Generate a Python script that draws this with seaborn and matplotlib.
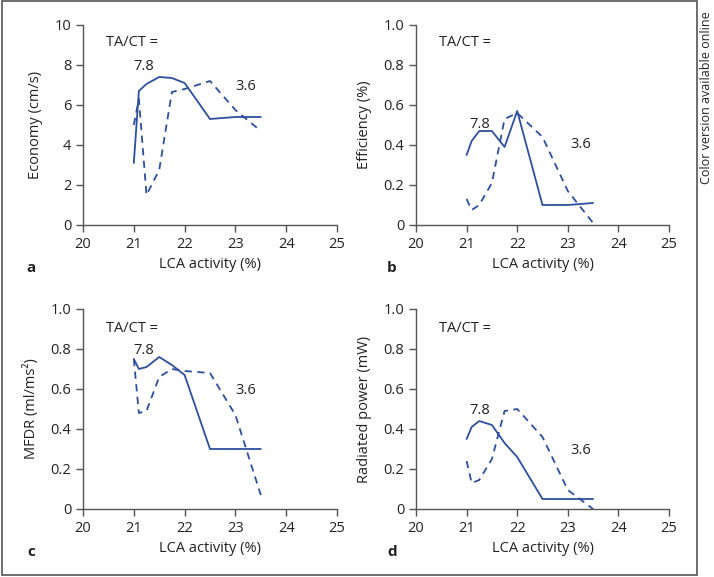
import pandas as pd
import seaborn as sns
import matplotlib.pyplot as plt
from matplotlib.patches import Rectangle

sns.set_style("ticks")
plt.rcParams['font.family'] = ['Open Sans', 'DejaVu Sans']

# LCA activity (%) values shared by all curves
lca = [21.0, 21.1, 21.25, 21.5, 21.75, 22.0, 22.5, 23.0, 23.5]

# TA/CT = 7.8 (solid) and 3.6 (dashed)
economy_78 = [3.1, 6.7, 7.05, 7.4, 7.35, 7.1, 5.3, 5.4, 5.4]
economy_36 = [5.0, 6.3, 1.5, 2.75, 6.65, 6.8, 7.2, 5.75, 4.7]

efficiency_78 = [0.35, 0.42, 0.47, 0.47, 0.39, 0.57, 0.10, 0.10, 0.11]
efficiency_36 = [0.13, 0.075, 0.10, 0.21, 0.53, 0.56, 0.44, 0.17, 0.01]

mfdr_78 = [0.75, 0.70, 0.71, 0.76, 0.72, 0.67, 0.30, 0.30, 0.30]
mfdr_36 = [0.75, 0.48, 0.49, 0.66, 0.70, 0.69, 0.68, 0.47, 0.07]

power_78 = [0.35, 0.41, 0.44, 0.42, 0.33, 0.26, 0.05, 0.05, 0.05]
power_36 = [0.24, 0.13, 0.145, 0.25, 0.49, 0.50, 0.36, 0.095, 0.0]

ylabels = ['Economy (cm/s)', 'Efficiency (%)', 'MFDR (ml/ms²)', 'Radiated power (mW)']
panel_letters = ['a', 'b', 'c', 'd']

color = '#2d4f9e'
grey = '#555555'

W, H = 714, 577
fig = plt.figure(figsize=(W / 100, H / 100), dpi=100)

# axes boxes in pixels: left, top, right, bottom
boxes = [(83, 25, 337, 225), (416, 25, 669, 225), (83, 309, 337, 509), (416, 309, 669, 509)]
series = [(economy_78, economy_36), (efficiency_78, efficiency_36),
          (mfdr_78, mfdr_36), (power_78, power_36)]
ylims = [(0, 10), (0, 1.0), (0, 1.0), (0, 1.0)]
yticks = [[0, 2, 4, 6, 8, 10], [0, 0.2, 0.4, 0.6, 0.8, 1.0],
          [0, 0.2, 0.4, 0.6, 0.8, 1.0], [0, 0.2, 0.4, 0.6, 0.8, 1.0]]
yticklabels = [['0', '2', '4', '6', '8', '10'],
               ['0', '0.2', '0.4', '0.6', '0.8', '1.0'],
               ['0', '0.2', '0.4', '0.6', '0.8', '1.0'],
               ['0', '0.2', '0.4', '0.6', '0.8', '1.0']]
# annotation positions in data coords: TA/CT=, 7.8, 3.6
notes = [
    [(20.45, 9.1), (21.0, 7.95), (23.0, 6.9)],
    [(20.45, 0.91), (21.05, 0.505), (23.05, 0.405)],
    [(20.45, 0.905), (21.0, 0.795), (23.0, 0.595)],
    [(20.45, 0.905), (21.05, 0.49), (23.05, 0.295)],
]

for i, ax_box in enumerate(boxes):
    l, t, r, b = ax_box
    ax = fig.add_axes([l / W, 1 - b / H, (r - l) / W, (b - t) / H])
    solid, dashed = series[i]
    sns.lineplot(x=lca, y=solid, ax=ax, color=color, linewidth=1.3)
    sns.lineplot(x=lca, y=dashed, ax=ax, color=color, linewidth=1.3, linestyle=(0, (4, 3)))
    ax.set_xlim(20, 25)
    ax.set_ylim(*ylims[i])
    ax.set_xticks([20, 21, 22, 23, 24, 25])
    ax.set_yticks(yticks[i])
    ax.set_yticklabels(yticklabels[i])
    ax.set_xlabel('LCA activity (%)', fontsize=10.5, color='#222222')
    ax.set_ylabel(ylabels[i], fontsize=10.5, color='#222222', labelpad=8)
    sns.despine(ax=ax)
    for s in ['left', 'bottom']:
        ax.spines[s].set_color(grey)
        ax.spines[s].set_linewidth(1.0)
    ax.tick_params(colors=grey, labelcolor='#222222', labelsize=10.5, length=5, width=1.0)
    ax.set_facecolor('white')

    (x0, y0), (x1, y1), (x2, y2) = notes[i]
    ax.text(x0, y0, 'TA/CT =', fontsize=10.5, ha='left', va='center', color='#222222')
    ax.text(x1, y1, '7.8', fontsize=10.5, ha='left', va='center', color='#222222')
    ax.text(x2, y2, '3.6', fontsize=10.5, ha='left', va='center', color='#222222')

    # panel letter
    lx = 31 if l < 200 else 392
    fig.text(lx / W, 1 - (b + 43) / H, panel_letters[i], fontsize=11, fontweight='bold',
             ha='center', va='center', color='#222222')

# outer frame and side note
fig.patches.append(Rectangle((2 / W, 1 - 575 / H), 695 / W, 574 / H, transform=fig.transFigure,
                             fill=False, edgecolor='#555555', linewidth=1.2))
fig.text(706 / W, 1 - 98 / H, 'Color version available online', rotation=90,
         fontsize=9, ha='center', va='center', color='#222222')

fig.savefig('out.png', dpi=100)
